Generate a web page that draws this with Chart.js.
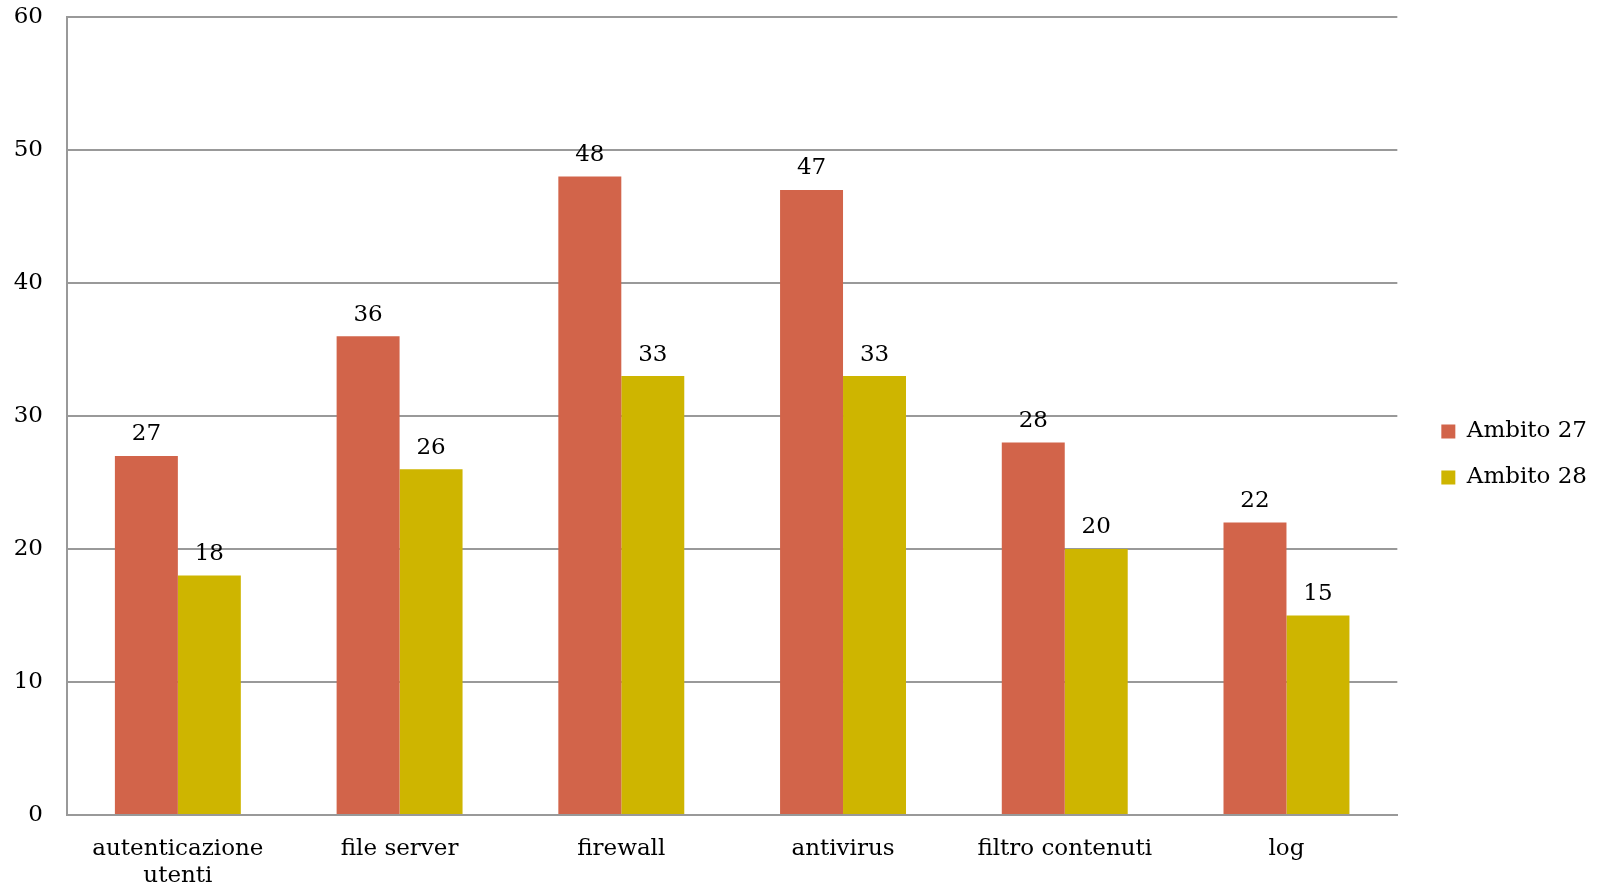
<!DOCTYPE html>
<html><head><meta charset="utf-8">
<script src="https://cdn.jsdelivr.net/npm/chart.js@4/dist/chart.umd.min.js"></script>
<style>html,body{margin:0;padding:0;background:#fff}#wrap{width:1600px;height:892px}</style>
</head><body><div id="wrap"><canvas id="c" width="1600" height="892"></canvas></div>
<script>
const categories = [["autenticazione","utenti"],"file server","firewall","antivirus","filtro contenuti","log"];
const ambito27 = [27,36,48,47,28,22];
const ambito28 = [18,26,33,33,20,15];
const seriesNames = ["Ambito 27","Ambito 28"];
const yTicks = [0,10,20,30,40,50,60];

const FONT = "'DejaVu Serif', 'Liberation Serif', serif";
const FS = 23;
const valueLabels = {
  id:'valueLabels',
  afterDatasetsDraw(chart){
    const ctx = chart.ctx;
    ctx.save();
    ctx.font = FS + "px " + FONT;
    ctx.fillStyle = "#000";
    ctx.textAlign = "center";
    ctx.textBaseline = "bottom";
    chart.data.datasets.forEach((ds,i)=>{
      chart.getDatasetMeta(i).data.forEach((el,j)=>{
        ctx.fillText(String(ds.data[j]), el.x, el.y - 10);
      });
    });
    ctx.restore();
  }
};

new Chart(document.getElementById('c'), {
  type:'bar',
  data:{
    labels: categories,
    datasets:[
      {label: seriesNames[0], data: ambito27, backgroundColor:'#D2644A'},
      {label: seriesNames[1], data: ambito28, backgroundColor:'#CEB500'}
    ]
  },
  options:{
    responsive:false,
    animation:false,
    devicePixelRatio:1,
    layout:{padding:{top:17,left:0,right:3,bottom:0}},
    datasets:{bar:{categoryPercentage:0.568,barPercentage:1.0}},
    scales:{
      x:{
        grid:{display:false, drawTicks:false},
        border:{color:'#999',width:2},
        ticks:{color:'#000',font:{family:FONT,size:FS},padding:20,maxRotation:0,autoSkip:false},
        afterFit(s){ s.height = 77; s.paddingLeft = 0; s.paddingRight = 0; }
      },
      y:{
        min:0,max:60,
        afterBuildTicks(s){ s.ticks = yTicks.map(v=>({value:v})); },
        grid:{color:'#999',lineWidth:2,drawTicks:false},
        border:{color:'#999',width:2},
        ticks:{color:'#000',font:{family:FONT,size:FS},padding:24},
        afterFit(s){ s.width = 67; s.paddingTop = 0; s.paddingBottom = 0; }
      },
      spacer:{
        position:'right',
        display:true,
        grid:{display:false, drawTicks:false},
        border:{display:false},
        ticks:{display:false},
        afterFit(s){ s.width = 21; s.paddingTop = 0; s.paddingBottom = 0; }
      }
    },
    plugins:{
      legend:{
        position:'right',
        labels:{color:'#000',font:{family:FONT,size:FS},boxWidth:14,boxHeight:14,padding:23}
      },
      tooltip:{enabled:false}
    }
  },
  plugins:[valueLabels]
});
</script></body></html>
